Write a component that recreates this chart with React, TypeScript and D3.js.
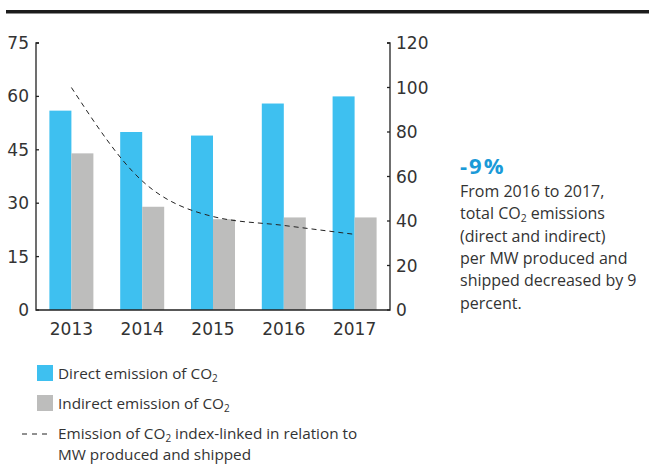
import * as d3 from "d3";

const years = ["2013", "2014", "2015", "2016", "2017"];
const direct = [56, 50, 49, 58, 60];
const indirect = [44, 29, 25.5, 26, 26];
const indexLine = [100, 58, 42, 38, 34];
const leftTicks = [0, 15, 30, 45, 60, 75];
const rightTicks = [0, 20, 40, 60, 80, 100, 120];
const bodyLines = [
  ["From 2016 to 2017,"],
  ["total CO", "2", " emissions"],
  ["(direct and indirect)"],
  ["per MW produced and"],
  ["shipped decreased by 9"],
  ["percent."],
];

const BLUE = "#3ec0f0";
const GRAY = "#bdbdbc";
const TEXT = "#333333";
const axisFont = "'DejaVu Sans', sans-serif";
const textFont = "'Open Sans', Roboto, sans-serif";

const Co2 = ({ before, after, size }: { before: string; after: string; size: number }) => (
  <>
    {before}CO
    <tspan fontSize={size * 0.65} dy={3}>2</tspan>
    <tspan dy={-3}>{after}</tspan>
  </>
);

const App = () => {
  const width = 649;
  const height = 464;
  const left = 36;
  const right = 390;
  const bottom = 310;
  const top = 43;

  const x = d3.scaleBand(years, [left, right]);
  const yL = d3.scaleLinear([0, 75], [bottom, top]);
  const yR = d3.scaleLinear([0, 120], [bottom, top]);
  const barW = 22;

  const line = d3
    .line<number>((_, i) => x(years[i])! + x.bandwidth() / 2, (d) => yR(d))
    .curve(d3.curveMonotoneX);

  return (
    <svg width={width} height={height} style={{ position: "absolute", left: 0, top: 0 }}>
      <rect x={6} y={10} width={643} height={3.5} fill="#1c1c1c" />

      {/* bars */}
      {years.map((yr, i) => {
        const cx = x(yr)! + x.bandwidth() / 2;
        return (
          <g key={yr}>
            <rect x={cx - barW} y={yL(direct[i])} width={barW} height={bottom - yL(direct[i])} fill={BLUE} />
            <rect x={cx} y={yL(indirect[i])} width={barW} height={bottom - yL(indirect[i])} fill={GRAY} />
          </g>
        );
      })}

      {/* axes */}
      <path d={`M${left + 3},${top}H${left}V${bottom}H${right}V${top}H${right - 3}`} fill="none" stroke="#222" strokeWidth={1.3} />
      {leftTicks.map((t) => (
        <g key={"l" + t}>
          <line x1={left} x2={left + 3} y1={yL(t)} y2={yL(t)} stroke="#222" strokeWidth={1.3} />
          <text x={29} y={yL(t)} textAnchor="end" dominantBaseline="central" fontFamily={axisFont} fontSize={17} fill={TEXT}>
            {t}
          </text>
        </g>
      ))}
      {rightTicks.map((t) => (
        <g key={"r" + t}>
          <line x1={right - 3} x2={right} y1={yR(t)} y2={yR(t)} stroke="#222" strokeWidth={1.3} />
          <text x={396} y={yR(t)} dominantBaseline="central" fontFamily={axisFont} fontSize={17} fill={TEXT}>
            {t}
          </text>
        </g>
      ))}
      {years.map((yr) => (
        <text key={yr} x={x(yr)! + x.bandwidth() / 2} y={335} textAnchor="middle" fontFamily={axisFont} fontSize={17} fill={TEXT}>
          {yr}
        </text>
      ))}

      {/* index line */}
      <path d={line(indexLine)!} fill="none" stroke="#222" strokeWidth={1} strokeDasharray="5,4" />

      {/* annotation */}
      <text x={460} y={174} fontFamily={textFont} fontWeight="bold" fontSize={22} letterSpacing={2} fill="#1b9ad8">
        -9%
      </text>
      {bodyLines.map((ln, i) => (
        <text key={i} x={460} y={197 + i * 22.3} fontFamily={textFont} fontSize={16} fill={TEXT}>
          {ln.length === 1 ? ln[0] : <Co2 before={"total "} after={" emissions"} size={16} />}
        </text>
      ))}

      {/* legend */}
      <rect x={37} y={365} width={16} height={16} fill={BLUE} />
      <text x={58} y={379} fontFamily={textFont} fontSize={15.3} fill={TEXT}>
        <Co2 before="Direct emission of " after="" size={15.3} />
      </text>
      <rect x={37} y={395} width={16} height={16} fill={GRAY} />
      <text x={58} y={409} fontFamily={textFont} fontSize={15.3} fill={TEXT}>
        <Co2 before="Indirect emission of " after="" size={15.3} />
      </text>
      <line x1={22} x2={52} y1={434} y2={434} stroke="#222" strokeWidth={1} strokeDasharray="5,5" />
      <text x={58} y={439} fontFamily={textFont} fontSize={15.3} fill={TEXT}>
        <Co2 before="Emission of " after=" index-linked in relation to" size={15.3} />
      </text>
      <text x={58} y={460} fontFamily={textFont} fontSize={15.3} fill={TEXT}>
        MW produced and shipped
      </text>
    </svg>
  );
};

export default App;
